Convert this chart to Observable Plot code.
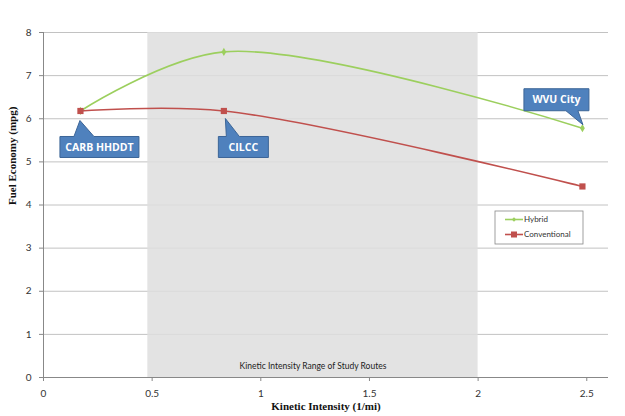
<!DOCTYPE html>
<html><head><meta charset="utf-8">
<script src="https://cdn.jsdelivr.net/npm/d3@7"></script>
<script src="https://cdn.jsdelivr.net/npm/@observablehq/plot@0.6"></script>
<style>body{margin:0;background:#fff}</style>
</head><body><div id="chart"></div>
<script>
const routes = ["CARB HHDDT", "CILCC", "WVU City"];
const kiValues = [0.17, 0.83, 2.48];
const hybridMpg = [6.18, 7.55, 5.78];
const conventionalMpg = [6.18, 6.18, 4.43];
const studyRange = [0.48, 2.0];
const studyLabel = "Kinetic Intensity Range of Study Routes";
const xTicks = [0, 0.5, 1, 1.5, 2, 2.5];
const yTicks = [0, 1, 2, 3, 4, 5, 6, 7, 8];
const seriesNames = ["Hybrid", "Conventional"];
const calloutSeries = ["Conventional", "Conventional", "Hybrid"];

const hybrid = kiValues.map((x, i) => ({x, y: hybridMpg[i]}));
const conventional = kiValues.map((x, i) => ({x, y: conventionalMpg[i]}));
const GREEN = "#9ccf5e", RED = "#c0504d", BLUE = "#4f81bd", BLUE_D = "#3c6597";

// callout shapes (pixel offsets relative to the data point)
const calloutShape = [
  {tip: [0, 10], box: [-20, 59, 26, 47], base: [-6, 14]},
  {tip: [2, 8], box: [-5, 45, 26, 47], base: [3, 16]},
  {tip: [1, -3], box: [-58, 7, -39, -17], base: [-16, -4]}
];

function callouts(index, scales) {
  const g = d3.create("svg:g");
  routes.forEach((name, i) => {
    const px = scales.x(kiValues[i]);
    const py = scales.y(calloutSeries[i] === "Hybrid" ? hybridMpg[i] : conventionalMpg[i]);
    const s = calloutShape[i];
    const [l, r, t, b] = s.box.map((v, k) => (k < 2 ? px : py) + v);
    const tx = px + s.tip[0], ty = py + s.tip[1];
    const b0 = px + s.base[0], b1 = px + s.base[1];
    let d;
    if (s.tip[1] > 0) d = `M${l},${t}L${b0},${t}L${tx},${ty}L${b1},${t}L${r},${t}L${r},${b}L${l},${b}Z`;
    else d = `M${l},${t}L${r},${t}L${r},${b}L${b1},${b}L${tx},${ty}L${b0},${b}L${l},${b}Z`;
    g.append("path").attr("d", d).attr("fill", BLUE).attr("stroke", BLUE_D).attr("stroke-width", 1);
    g.append("text").attr("x", (l + r) / 2).attr("y", (t + b) / 2).attr("dy", "0.35em")
      .attr("text-anchor", "middle").attr("fill", "#fff").attr("font-weight", "bold")
      .attr("font-family", "Open Sans, sans-serif").attr("font-size", 10.5).text(name);
  });
  return g.node();
}

function legend(index, scales, values, dims) {
  const g = d3.create("svg:g");
  const L = dims.width - dims.marginRight - 113, T = 211;
  g.append("rect").attr("x", L).attr("y", T).attr("width", 88).attr("height", 33)
    .attr("fill", "#fff").attr("stroke", "#888").attr("stroke-width", 0.8);
  [[GREEN, seriesNames[0]], [RED, seriesNames[1]]].forEach(([c, n], i) => {
    const y = T + 8.5 + i * 15;
    g.append("line").attr("x1", L + 10).attr("x2", L + 28).attr("y1", y).attr("y2", y).attr("stroke", c).attr("stroke-width", 1.6);
    if (i === 0) g.append("path").attr("d", `M${L+19},${y-2.2}L${L+21.2},${y}L${L+19},${y+2.2}L${L+16.8},${y}Z`).attr("fill", c);
    else g.append("rect").attr("x", L + 16).attr("y", y - 3).attr("width", 6).attr("height", 6).attr("fill", c);
    g.append("text").attr("x", L + 29).attr("y", y).attr("dy", "0.35em").attr("font-size", 8)
      .attr("text-anchor", "start")
      .attr("font-family", "Lato, sans-serif").attr("fill", "#333").text(n);
  });
  return g.node();
}

const chart = Plot.plot({
  width: 625, height: 416,
  marginLeft: 43, marginRight: 17, marginTop: 32, marginBottom: 39,
  x: {domain: [0, 2.6]},
  y: {domain: [0, 8]},
  style: {fontFamily: "Lato, sans-serif", fontSize: "10px", color: "#333", background: "#fff"},
  marks: [
    Plot.gridY(yTicks, {stroke: "#c2c2c2", strokeOpacity: 1, strokeWidth: 1}),
    Plot.rect([studyRange], {x1: d => d[0], x2: d => d[1], y1: 0, y2: 8, fill: "#dedede", fillOpacity: 0.85}),
    Plot.text([studyLabel], {x: (studyRange[0] + studyRange[1]) / 2, y: 0, dy: -11, text: d => d, fontSize: 8.5, fill: "#222"}),
    Plot.ruleX([0], {stroke: "#888"}),
    Plot.ruleY([0], {stroke: "#888"}),
    Plot.axisX({ticks: xTicks, tickFormat: d => String(d), tickSize: 4, tickPadding: 8, stroke: "#888", label: null, fill: "#333"}),
    Plot.axisY({ticks: yTicks, tickSize: 4, tickPadding: 8, stroke: "#888", label: null, fill: "#333"}),
    Plot.line(hybrid, {x: "x", y: "y", stroke: GREEN, strokeWidth: 1.6, curve: "catmull-rom"}),
    Plot.line(conventional, {x: "x", y: "y", stroke: RED, strokeWidth: 1.6, curve: "catmull-rom"}),
    Plot.dot(hybrid, {x: "x", y: "y", symbol: "diamond", r: 2.5, fill: GREEN}),
    Plot.dot(conventional, {x: "x", y: "y", symbol: "square", r: 3.5, fill: RED}),
    callouts,
    legend,
    Plot.text(["Fuel Economy (mpg)"], {frameAnchor: "left", dx: -31, rotate: -90, text: d => d, fontFamily: "Liberation Serif, serif", fontWeight: "bold", fontSize: 11, fill: "#111"}),
    Plot.text(["Kinetic Intensity (1/mi)"], {frameAnchor: "bottom", dy: 32, text: d => d, fontFamily: "Liberation Serif, serif", fontWeight: "bold", fontSize: 11, fill: "#111"})
  ]
});
document.getElementById("chart").append(chart);
</script></body></html>
